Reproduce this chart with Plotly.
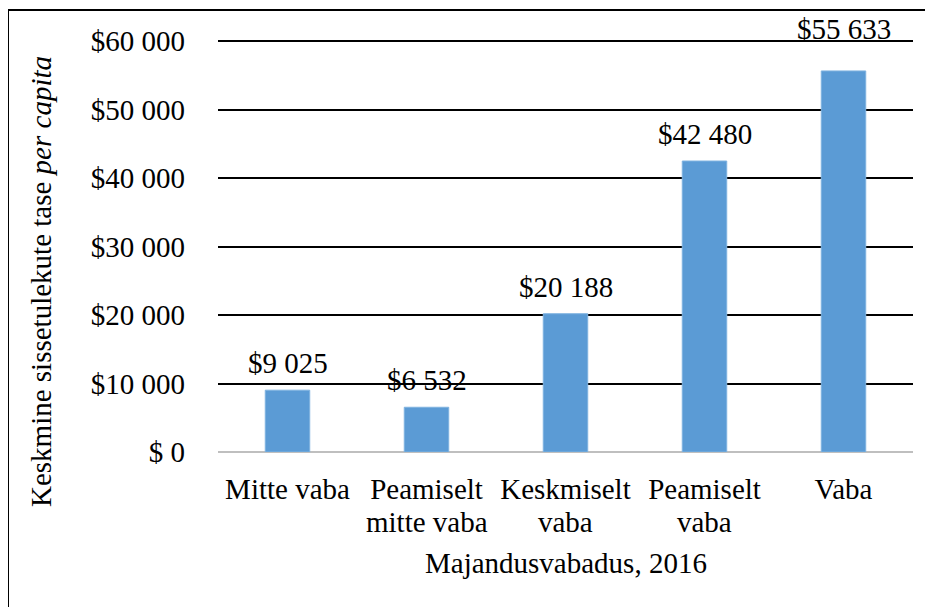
import plotly.graph_objects as go

categories = ["Mitte vaba", "Peamiselt<br>mitte vaba", "Keskmiselt<br>vaba", "Peamiselt<br>vaba", "Vaba"]
values = [9025, 6532, 20188, 42480, 55633]
value_labels = ["$9 025", "$6 532", "$20 188", "$42 480", "$55 633"]
tick_vals = [0, 10000, 20000, 30000, 40000, 50000, 60000]
tick_text = ["$ 0", "$10 000", "$20 000", "$30 000", "$40 000", "$50 000", "$60 000"]

FONT = "Liberation Serif, Times New Roman, serif"
FS = 29
OFF = 8  # page body offset
W, H = 933, 607
L, R, T, B = 218 - OFF, 20 + OFF, 40 - OFF, 155 + OFF
pw, ph = W - L - R, H - T - B


def py(screen_y):
    return (H - B - (screen_y - OFF)) / ph


def px(screen_x):
    return (screen_x - OFF - L) / pw


fig = go.Figure()
fig.add_trace(go.Bar(
    x=categories, y=values,
    marker=dict(color="#5B9BD5", line=dict(color="#7FB2E0", width=1)),
    width=0.32,
))

label_shift = [9, 9, 9, 9, 24]
for c, v, t, s in zip(categories, values, value_labels, label_shift):
    fig.add_annotation(x=c, y=v, text=t, showarrow=False, yanchor="bottom",
                       yshift=s, font=dict(size=FS, color="black", family=FONT))

# category labels: first line as tick text, second line as annotation (tighter line spacing)
first_lines = [c.split("<br>")[0] for c in categories]
for c in categories:
    parts = c.split("<br>")
    if len(parts) > 1:
        fig.add_annotation(x=c, xref="x", yref="paper", y=py(522), text=parts[1],
                           showarrow=False, yanchor="middle", xanchor="center",
                           font=dict(size=FS, family=FONT))

fig.update_layout(
    width=W, height=H,
    margin=dict(l=L, r=R, t=T, b=B),
    paper_bgcolor="white", plot_bgcolor="white",
    font=dict(family=FONT, size=FS, color="black"),
    showlegend=False,
    xaxis=dict(showgrid=False, showline=False, ticks="", ticklabelstandoff=17,
               tickvals=categories, ticktext=first_lines, tickfont=dict(size=FS)),
    yaxis=dict(range=[0, 60150], tickvals=tick_vals, ticktext=tick_text,
               showgrid=True, gridcolor="black", gridwidth=2,
               zeroline=True, zerolinecolor="#BFBFBF", zerolinewidth=2,
               ticks="", ticklabelstandoff=32, tickfont=dict(size=FS),
               showline=False),
)

# axis titles (positions in screen pixels)
fig.add_annotation(xref="paper", yref="paper", x=px(41), y=py(282),
                   xanchor="center", yanchor="middle",
                   text="Keskmine sissetulekute tase <i>per capita</i>",
                   textangle=-90, showarrow=False, font=dict(size=FS, family=FONT))
fig.add_annotation(xref="paper", yref="paper", x=px(566), y=py(563),
                   xanchor="center", yanchor="middle",
                   text="Majandusvabadus, 2016", showarrow=False,
                   font=dict(size=FS, family=FONT))

# outer border (cropped box)
fig.add_shape(type="rect", xref="paper", yref="paper",
              x0=px(8), x1=px(W + 30),
              y0=py(H + 30), y1=py(10),
              line=dict(color="black", width=2), fillcolor="rgba(0,0,0,0)", layer="below")

fig.write_html("out.html")
